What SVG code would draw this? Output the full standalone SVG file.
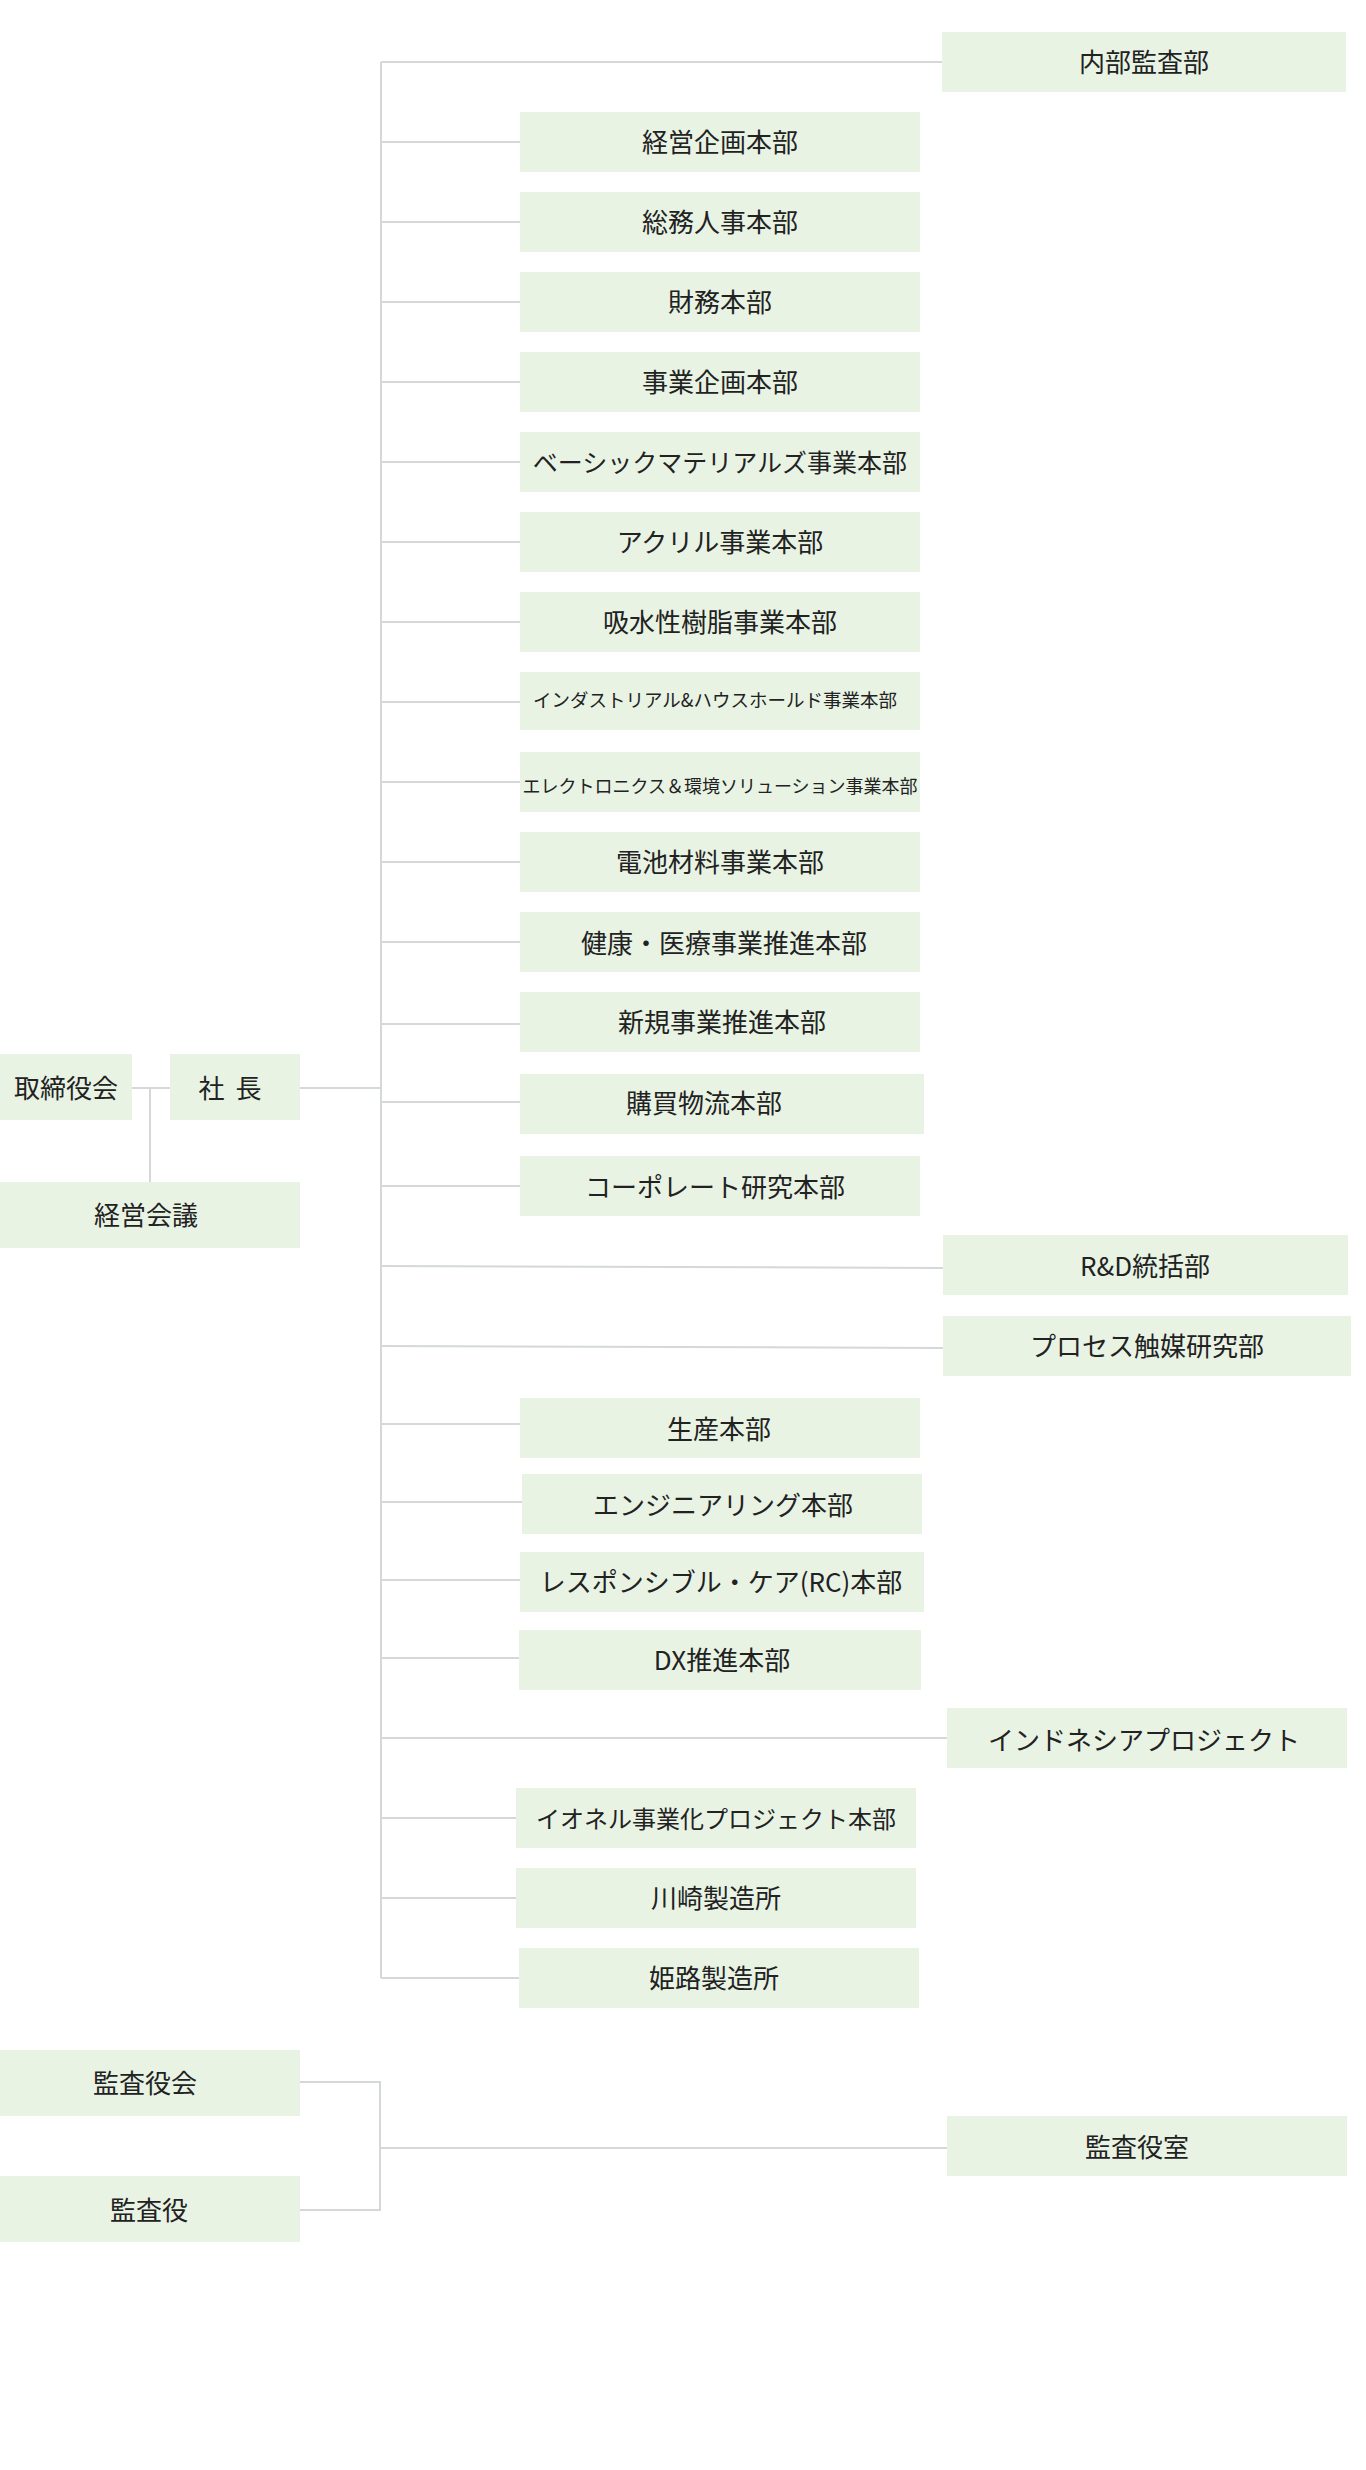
<svg xmlns="http://www.w3.org/2000/svg" width="1366" height="2470" viewBox="0 0 1366 2470">
<style>
.box{fill:#e8f3e4}
.t{font-family:"Noto Sans CJK JP","Noto Sans CJK SC",sans-serif;font-size:26px;fill:#222222;text-anchor:middle;dominant-baseline:central;transform:translateY(-1.5px)}
.s1{font-size:18.5px}
.s2{font-size:18px}
.s25{font-size:25px}
.s24{font-size:24px}
.conn{stroke:#d4d8d8;stroke-width:2;fill:none}
</style>
<rect width="1366" height="2470" fill="#ffffff"/>
<g id="connectors" class="conn">
<path d="M381 62V1978"/>
<path d="M381 62H942"/>
<path d="M381 142H520"/>
<path d="M381 222H520"/>
<path d="M381 302H520"/>
<path d="M381 382H520"/>
<path d="M381 462H520"/>
<path d="M381 542H520"/>
<path d="M381 622H520"/>
<path d="M381 702H520"/>
<path d="M381 782H520"/>
<path d="M381 862H520"/>
<path d="M381 942H520"/>
<path d="M381 1024H520"/>
<path d="M381 1102H520"/>
<path d="M381 1186H520"/>
<path d="M381 1266L943 1268"/>
<path d="M381 1346L943 1348"/>
<path d="M381 1424H520"/>
<path d="M381 1502H522"/>
<path d="M381 1580H520"/>
<path d="M381 1658H519"/>
<path d="M381 1738H947"/>
<path d="M381 1818H516"/>
<path d="M381 1898H516"/>
<path d="M381 1978H519"/>
<path d="M132 1088H170"/>
<path d="M150 1088V1182"/>
<path d="M300 1088H381"/>
<path d="M300 2082H380V2210H300"/>
<path d="M380 2148H947"/>
</g>
<g id="n-naibu"><rect class="box" x="942" y="32" width="404" height="60"/><text class="t" x="1144" y="62">内部監査部</text></g>
<g id="n-keiei-kikaku"><rect class="box" x="520" y="112" width="400" height="60"/><text class="t" x="720" y="142">経営企画本部</text></g>
<g id="n-somu"><rect class="box" x="520" y="192" width="400" height="60"/><text class="t" x="720" y="222">総務人事本部</text></g>
<g id="n-zaimu"><rect class="box" x="520" y="272" width="400" height="60"/><text class="t" x="720" y="302">財務本部</text></g>
<g id="n-jigyo-kikaku"><rect class="box" x="520" y="352" width="400" height="60"/><text class="t" x="720" y="382">事業企画本部</text></g>
<g id="n-basic"><rect class="box" x="520" y="432" width="400" height="60"/><text class="t s25" x="720" y="462">ベーシックマテリアルズ事業本部</text></g>
<g id="n-acryl"><rect class="box" x="520" y="512" width="400" height="60"/><text class="t" x="720" y="542">アクリル事業本部</text></g>
<g id="n-kyusui"><rect class="box" x="520" y="592" width="400" height="60"/><text class="t" x="720" y="622">吸水性樹脂事業本部</text></g>
<g id="n-industrial"><rect class="box" x="520" y="672" width="400" height="58"/><text class="t s1" x="715" y="700">インダストリアル&amp;ハウスホールド事業本部</text></g>
<g id="n-electronics"><rect class="box" x="520" y="752" width="400" height="60"/><text class="t s2" x="720" y="786">エレクトロニクス＆環境ソリューション事業本部</text></g>
<g id="n-denchi"><rect class="box" x="520" y="832" width="400" height="60"/><text class="t" x="720" y="862">電池材料事業本部</text></g>
<g id="n-kenko"><rect class="box" x="520" y="912" width="400" height="60"/><text class="t" x="724" y="943">健康・医療事業推進本部</text></g>
<g id="n-shinki"><rect class="box" x="520" y="992" width="400" height="60"/><text class="t" x="722" y="1022">新規事業推進本部</text></g>
<g id="n-kobai"><rect class="box" x="520" y="1074" width="404" height="60"/><text class="t" x="704" y="1103">購買物流本部</text></g>
<g id="n-corporate"><rect class="box" x="520" y="1156" width="400" height="60"/><text class="t" x="715" y="1187">コーポレート研究本部</text></g>
<g id="n-rd"><rect class="box" x="943" y="1235" width="405" height="60"/><text class="t" x="1145" y="1266">R&amp;D統括部</text></g>
<g id="n-process"><rect class="box" x="943" y="1316" width="408" height="60"/><text class="t" x="1147" y="1346">プロセス触媒研究部</text></g>
<g id="n-seisan"><rect class="box" x="520" y="1398" width="400" height="60"/><text class="t" x="719" y="1429">生産本部</text></g>
<g id="n-engineering"><rect class="box" x="522" y="1474" width="400" height="60"/><text class="t" x="723" y="1505">エンジニアリング本部</text></g>
<g id="n-rc"><rect class="box" x="520" y="1552" width="404" height="60"/><text class="t" x="721" y="1582">レスポンシブル・ケア(RC)本部</text></g>
<g id="n-dx"><rect class="box" x="519" y="1630" width="402" height="60"/><text class="t" x="722" y="1660">DX推進本部</text></g>
<g id="n-indonesia"><rect class="box" x="947" y="1708" width="400" height="60"/><text class="t" x="1144" y="1740">インドネシアプロジェクト</text></g>
<g id="n-ionel"><rect class="box" x="516" y="1788" width="400" height="60"/><text class="t s24" x="716" y="1819">イオネル事業化プロジェクト本部</text></g>
<g id="n-kawasaki"><rect class="box" x="516" y="1868" width="400" height="60"/><text class="t" x="716" y="1898">川崎製造所</text></g>
<g id="n-himeji"><rect class="box" x="519" y="1948" width="400" height="60"/><text class="t" x="714" y="1978">姫路製造所</text></g>
<g id="n-torishimari"><rect class="box" x="0" y="1054" width="132" height="66"/><text class="t" x="66" y="1088">取締役会</text></g>
<g id="n-shacho"><rect class="box" x="170" y="1054" width="130" height="66"/><text class="t" x="230" y="1088" word-spacing="5">社 長</text></g>
<g id="n-keiei-kaigi"><rect class="box" x="0" y="1182" width="300" height="66"/><text class="t" x="146" y="1215">経営会議</text></g>
<g id="n-kansayakukai"><rect class="box" x="0" y="2050" width="300" height="66"/><text class="t" x="145" y="2083">監査役会</text></g>
<g id="n-kansayaku"><rect class="box" x="0" y="2176" width="300" height="66"/><text class="t" x="149" y="2210">監査役</text></g>
<g id="n-kansayakushitsu"><rect class="box" x="947" y="2116" width="400" height="60"/><text class="t" x="1137" y="2147">監査役室</text></g>
</svg>
